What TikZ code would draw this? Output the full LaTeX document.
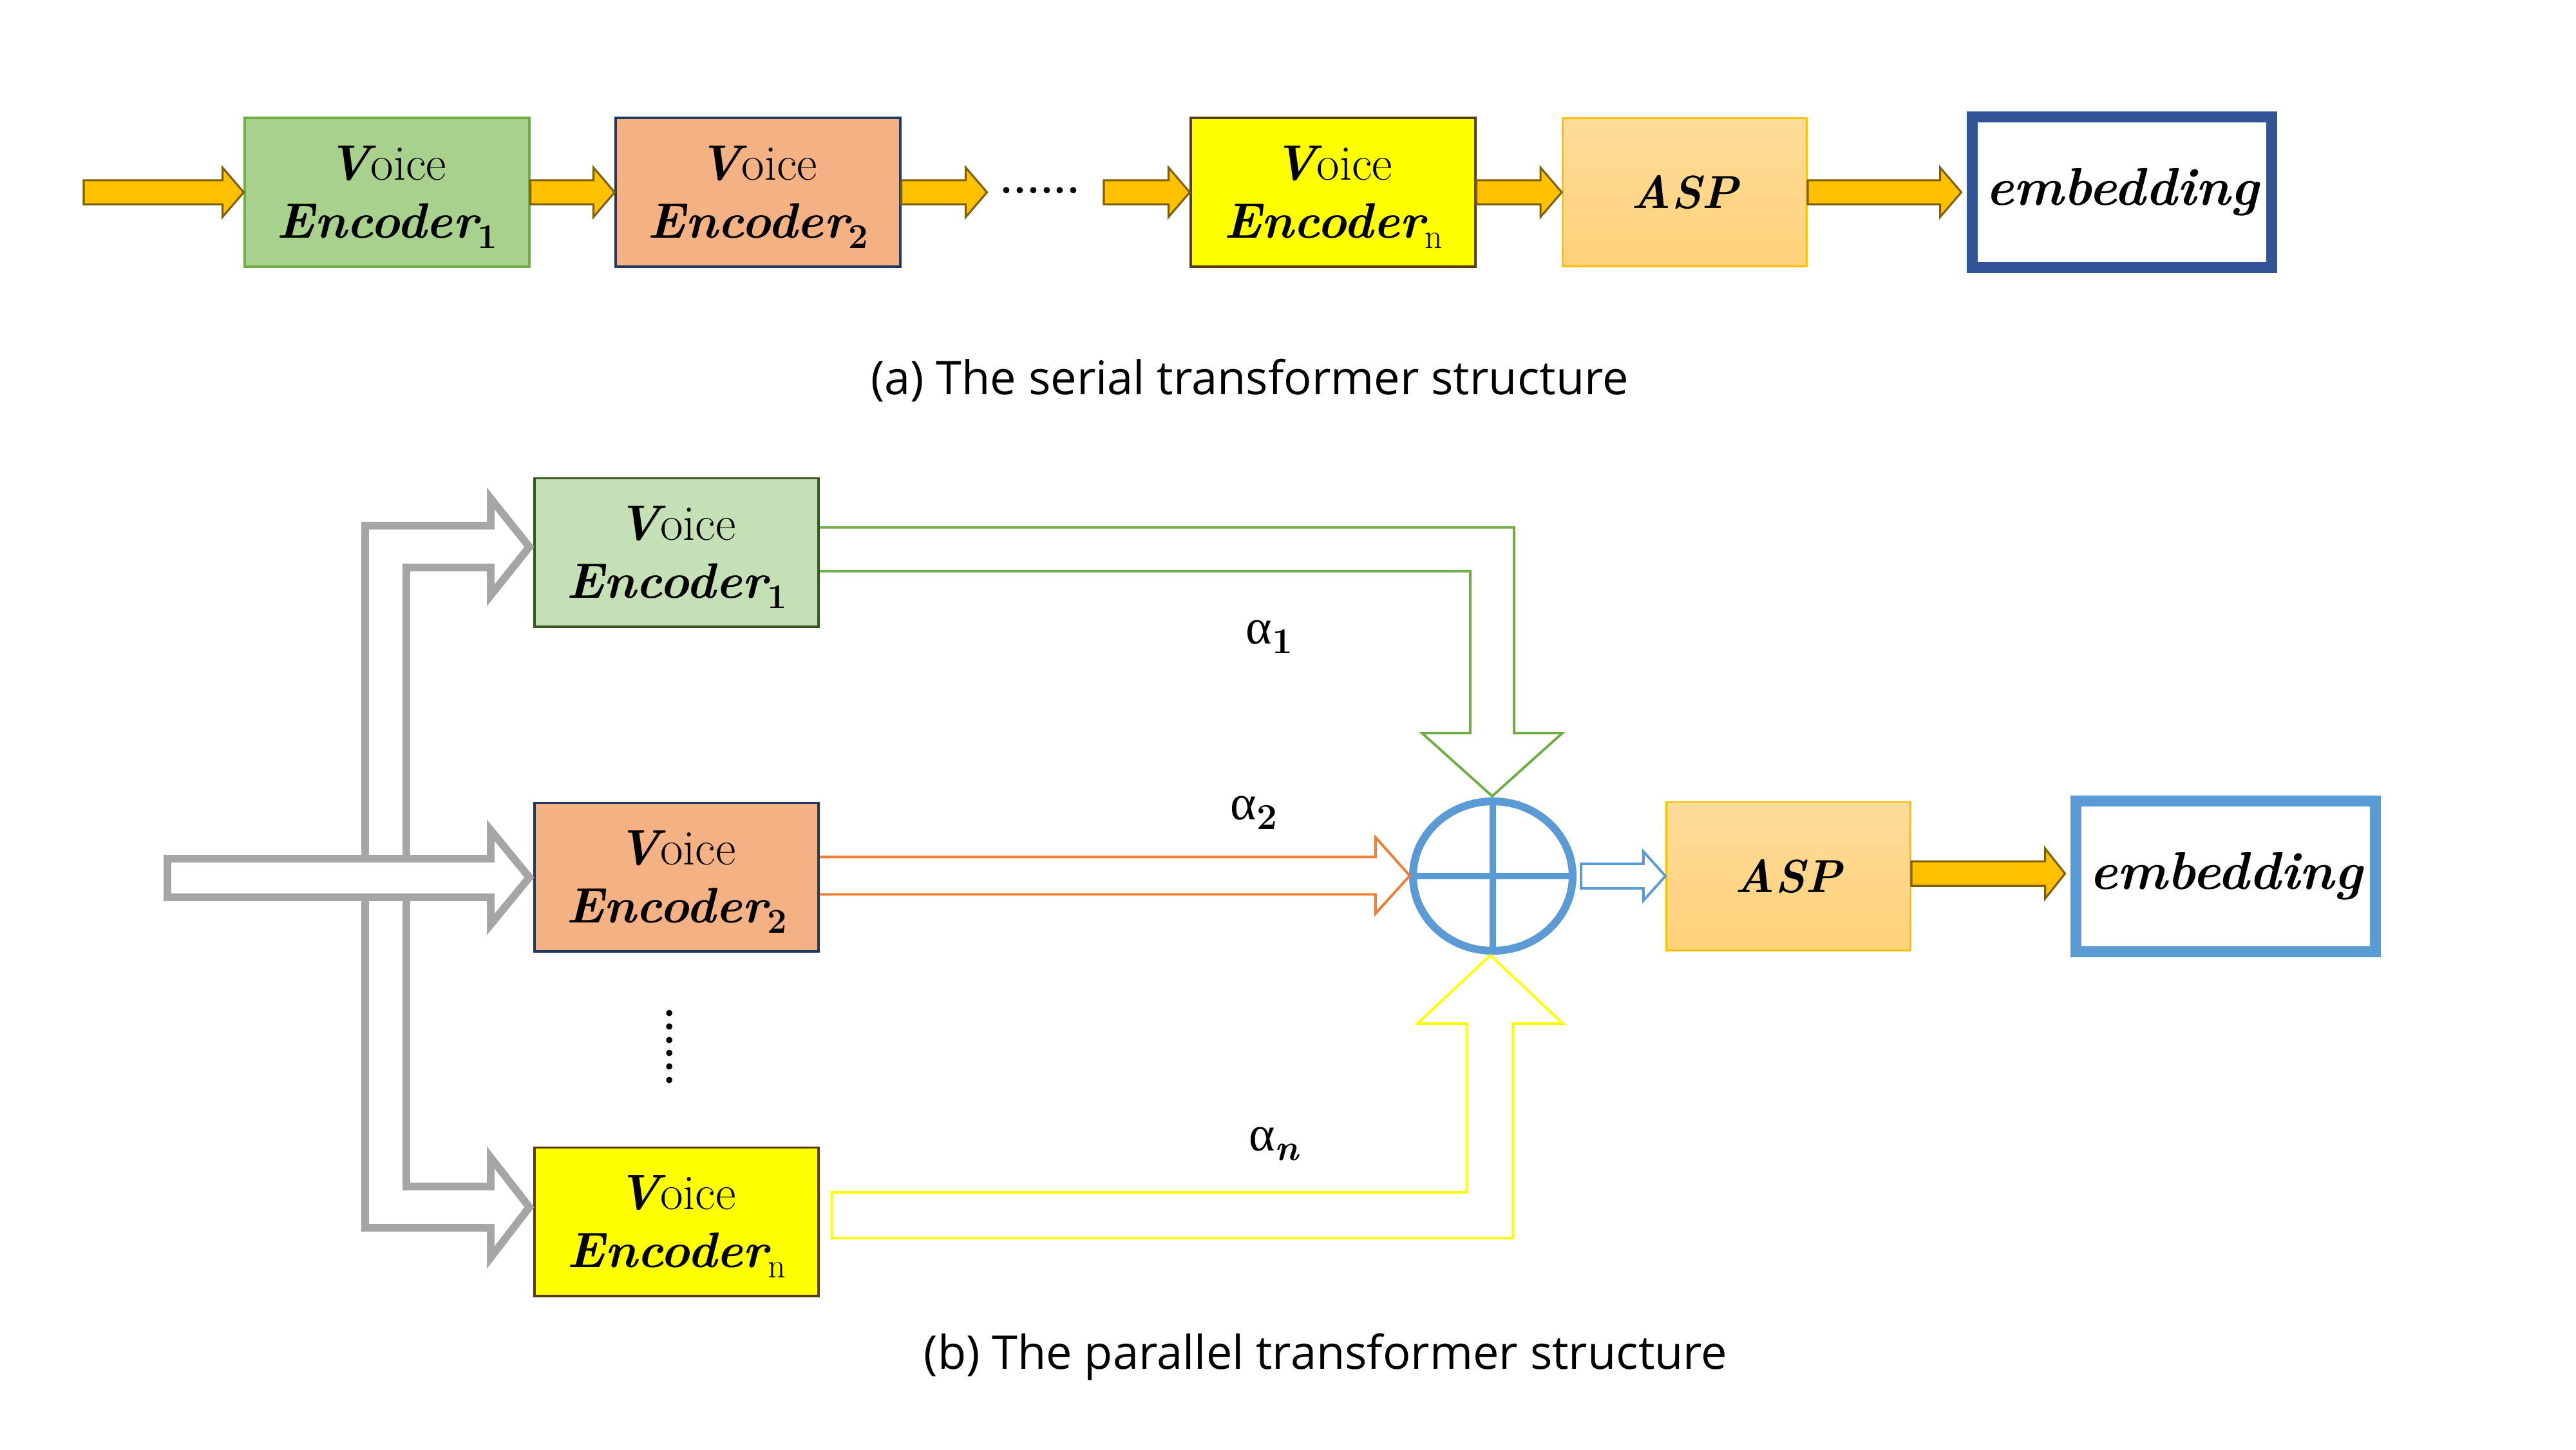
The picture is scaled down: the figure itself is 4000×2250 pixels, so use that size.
\documentclass[tikz,border=0pt]{standalone}
\usepackage{fontspec}
\newfontfamily\capfont{Open Sans}
\newfontfamily\grk{Liberation Serif}
\usetikzlibrary{calc,shapes.geometric}
\definecolor{gold}{HTML}{FFC000}
\definecolor{golddark}{HTML}{7F6000}
\definecolor{gonefill}{HTML}{A9D18E}
\definecolor{gonedraw}{HTML}{70AD47}
\definecolor{orfill}{HTML}{F4B183}
\definecolor{navy}{HTML}{203864}
\definecolor{yel}{HTML}{FFFF00}
\definecolor{brownb}{HTML}{5C3B12}
\definecolor{aspTop}{HTML}{FFDB9A}
\definecolor{aspBot}{HTML}{FFD27A}
\definecolor{embA}{HTML}{2F5597}
\definecolor{gtwofill}{HTML}{C5E0B4}
\definecolor{gtwodraw}{HTML}{385723}
\definecolor{bluec}{HTML}{5B9BD5}
\definecolor{grayc}{HTML}{A5A5A5}
\definecolor{orline}{HTML}{ED7D31}
\newcommand\enctext[1]{{\bfseries\itshape V}oice\\{\bfseries\itshape Encoder}\raisebox{-6pt}[0pt][0pt]{\fontsize{21}{21}\selectfont #1}}
\newcommand\blockarrow[6]{%
  \path[#1] let \p1=(#2), \p2=(#3) in
    (\x1,\y1+#4) -- (\x2-#6,\y1+#4) -- (\x2-#6,\y1+#5) -- (\x2,\y1) --
    (\x2-#6,\y1-#5) -- (\x2-#6,\y1-#4) -- (\x1,\y1-#4) -- cycle;}
\begin{document}
\begin{tikzpicture}[x=0.388pt,y=-0.388pt,
  encbox/.style={draw, line width=1.5pt, minimum width=171.2pt, minimum height=89.3pt,
    inner sep=0pt, align=center, font=\fontsize{30}{35}\selectfont},
  aspbox/.style={draw=gold, line width=1pt, top color=aspTop, bottom color=aspBot,
    minimum width=147.2pt, minimum height=89.4pt, inner sep=0pt,
    font=\fontsize{28}{34}\selectfont\bfseries\itshape},
  embbox/.style={draw, line width=6.6pt, fill=white, minimum width=180.4pt,
    minimum height=90.8pt, inner sep=0pt, font=\fontsize{32}{36}\selectfont\bfseries\itshape},
  goldar/.style={fill=gold, draw=golddark, line width=1.2pt, line join=miter},
  grayar/.style={draw=grayc, line width=4.6pt, fill=white, line join=miter},
  hollowline/.style={line width=1.5pt, line join=miter},
  capt/.style={font=\capfont\fontsize{28}{32}\selectfont, inner sep=0pt},
  alab/.style={font=\fontsize{30}{32}\selectfont, inner sep=0pt},
  dotsty/.style={font=\fontsize{26}{26}\selectfont\bfseries, inner sep=0pt}
]
\useasboundingbox (0,0) rectangle (4000,2250);

% ---------------- (a) serial ----------------
\coordinate (ina) at (130,298.5);
\node[encbox, fill=gonefill, draw=gonedraw] (Ea1) at (601,298.5) {\enctext{\bfseries 1}};
\node[encbox, fill=orfill, draw=navy] (Ea2) at (1177,298.5) {\enctext{\bfseries 2}};
\coordinate (dotsend) at (1714,298.5);
\node[dotsty] (hdots) at (1615,296) {......};
\node[encbox, fill=yel, draw=brownb] (Ean) at (2070,298.5) {\enctext{n}};
\node[aspbox] (ASPa) at (2616,298.5) {ASP};
\node[embbox, draw=embA] (Emba) at (3295,298.5) {embedding};

\blockarrow{goldar}{ina}{Ea1.west}{7.2pt}{14.9pt}{12.8pt}
\blockarrow{goldar}{Ea1.east}{Ea2.west}{7.2pt}{14.9pt}{12.8pt}
\blockarrow{goldar}{Ea2.east}{$(Ea2.east)+(133,0)$}{7.2pt}{14.9pt}{12.8pt}
\blockarrow{goldar}{dotsend}{Ean.west}{7.2pt}{14.9pt}{12.8pt}
\blockarrow{goldar}{Ean.east}{ASPa.west}{7.2pt}{14.9pt}{12.8pt}
\blockarrow{goldar}{ASPa.east}{$(Emba.west)+(-8.5,0)$}{7.2pt}{14.9pt}{12.8pt}

\node[capt, anchor=base] (capa) at (1940.5,612.7) {(a) The serial transformer structure};

% ---------------- (b) parallel ----------------
\node[encbox, fill=gtwofill, draw=gtwodraw] (Eb1) at (1050.4,857.6) {\enctext{\bfseries 1}};
\node[encbox, fill=orfill, draw=navy] (Eb2) at (1050.4,1361.5) {\enctext{\bfseries 2}};
\node[encbox, fill=yel, draw=brownb] (Ebn) at (1050.4,1896.5) {\enctext{n}};
\node[dotsty, rotate=90] (vdots) at (1040,1625) {......};

% gray input arrows
\coordinate (tip1) at (822,849);
\coordinate (tip2) at (822,1362);
\coordinate (tipn) at (822,1874);
\draw[grayar] (567,1363) -- (567,816) -- (762,816) -- (762,774) -- (tip1) -- (762,924) -- (762,881) -- (631,881) -- (631,1363) -- cycle;
\draw[grayar] (567,1363) -- (567,1906) -- (762,1906) -- (762,1952) -- (tipn) -- (762,1797) -- (762,1842) -- (631,1842) -- (631,1363) -- cycle;
\draw[grayar] (260,1333) -- (762,1333) -- (762,1289) -- (tip2) -- (762,1435) -- (762,1393) -- (260,1393) -- cycle;

% summation
\node[ellipse, draw=bluec, line width=4.7pt, minimum width=96.2pt, minimum height=90pt, inner sep=0pt] (sum) at (2318,1360) {};
\draw[bluec, line width=3.9pt] (sum.west) -- (sum.east);
\draw[bluec, line width=3.9pt] (sum.north) -- (sum.south);

% weighted branches
\draw[hollowline, draw=gonedraw] (Eb1.east |- 0,818.8) -- (2351,818.8) -- (2351,1138) -- (2426,1138) -- (2317,1236) -- (2208,1138) -- (2283,1138) -- (2283,886.8) -- (Eb1.east |- 0,886.8);
\draw[hollowline, draw=orline] (Eb2.east |- 0,1330.4) -- (2136,1330.4) -- (2136,1300) -- (2189,1359.5) -- (2136,1418) -- (2136,1388.5) -- (Eb2.east |- 0,1388.5);
\draw[hollowline, draw=yel] (1292,1851) -- (2278,1851) -- (2278,1589) -- (2201,1589) -- (2314,1483) -- (2427,1589) -- (2349,1589) -- (2349,1922) -- (1292,1922) -- cycle;

\node[alab] (al1) at (1971,989) {{\grk α}\raisebox{-6pt}{\fontsize{22}{22}\selectfont\bfseries 1}};
\node[alab] (al2) at (1947,1262) {{\grk α}\raisebox{-6pt}{\fontsize{22}{22}\selectfont\bfseries 2}};
\node[alab] (aln) at (1978,1776) {{\grk α}\raisebox{-6pt}{\fontsize{22}{22}\selectfont\bfseries\itshape n}};

\node[aspbox] (ASPb) at (2777,1360) {ASP};
\node[embbox, draw=bluec] (Embb) at (3456,1360) {embedding};

\blockarrow{draw=bluec, fill=white, line width=1.5pt, line join=miter}{$(sum.east)+(7,0)$}{ASPb.west}{7.4pt}{14.7pt}{13.2pt}
\path let \p1=(ASPb.east) in coordinate (aspbo) at (\x1,\y1+1.5pt);
\blockarrow{goldar}{aspbo}{$(Embb.west)+(-8.5,0)$}{7.4pt}{15.1pt}{12pt}

\node[capt, anchor=base] (capb) at (2058.6,2125) {(b) The parallel transformer structure};
\end{tikzpicture}
\end{document}
